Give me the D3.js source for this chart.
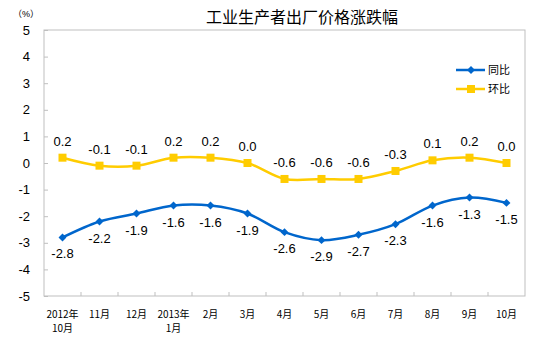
<!DOCTYPE html>
<html>
<head>
<meta charset="utf-8">
<script src="https://cdn.jsdelivr.net/npm/d3@7"></script>
<style>
  body { margin: 0; background: #fff; }
  text { font-family: "Liberation Sans", Arial, "Noto Sans CJK SC", sans-serif; fill: #000; }
  .cn { font-family: "Noto Sans CJK SC", sans-serif; }
</style>
</head>
<body>
<svg id="chart" width="554" height="362"></svg>
<script>
// chart data
var months = ['2012年|10月', '11月', '12月', '2013年|1月', '2月', '3月', '4月', '5月', '6月', '7月', '8月', '9月', '10月'];
var yoy = [-2.8, -2.2, -1.9, -1.6, -1.6, -1.9, -2.6, -2.9, -2.7, -2.3, -1.6, -1.3, -1.5];
var mom = [0.2, -0.1, -0.1, 0.2, 0.2, 0.0, -0.6, -0.6, -0.6, -0.3, 0.1, 0.2, 0.0];
var yTicks = [5, 4, 3, 2, 1, 0, -1, -2, -3, -4, -5];
var seriesNames = ['同比', '环比'];

var svg = d3.select('#chart');
var plotL = 44, plotR = 525, plotT = 30, plotB = 296;
var grey = '#bfbfbf';
var blue = '#0066cc', yellow = '#ffcc00';

var x = d3.scaleBand().domain(d3.range(months.length)).range([plotL, plotR]);
var y = d3.scaleLinear().domain([-5, 5]).range([plotB, plotT]);
var cx = (i) => x(i) + x.bandwidth() / 2;

// plain hyphen for negatives, like the original
var fmt = (d) => d.toFixed(1);

// title
svg.append('text')
  .attr('class', 'cn')
  .attr('x', 302).attr('y', 23)
  .attr('text-anchor', 'middle')
  .style('font-size', '16px')
  .text('工业生产者出厂价格涨跌幅');

svg.append('text')
  .attr('x', 26).attr('y', 17)
  .attr('text-anchor', 'middle')
  .style('font-size', '9px')
  .text('（%）');

// plot frame
svg.append('rect')
  .attr('x', plotL).attr('y', plotT)
  .attr('width', plotR - plotL).attr('height', plotB - plotT)
  .attr('fill', 'none')
  .attr('stroke', grey)
  .attr('stroke-width', 1);

// y axis
var yAxis = svg.append('g')
  .attr('transform', 'translate(' + plotL + ',0)')
  .call(d3.axisRight(y).tickValues(yTicks).tickSize(4).tickFormat((d) => String(d)));
yAxis.select('.domain').remove();
yAxis.selectAll('line').attr('stroke', grey);
yAxis.selectAll('text')
  .attr('x', -14).attr('text-anchor', 'end')
  .style('font-size', '13px');

// x axis ticks at category boundaries
svg.append('g')
  .selectAll('line')
  .data(d3.range(1, months.length))
  .enter()
  .append('line')
    .attr('x1', (d) => x(d)).attr('x2', (d) => x(d))
    .attr('y1', plotB).attr('y2', plotB - 4)
    .attr('stroke', grey);

var xl = svg.append('g')
  .selectAll('text')
  .data(months)
  .enter()
  .append('text')
    .attr('class', 'cn')
    .attr('text-anchor', 'middle')
    .attr('y', 318)
    .style('font-size', '10px');
xl.each(function(d, i) {
  var parts = d.split('|');
  d3.select(this).selectAll('tspan')
    .data(parts)
    .enter()
    .append('tspan')
      .attr('x', cx(i))
      .attr('dy', (p, j) => j ? 14 : 0)
      .text((p) => p);
});

// lines
var line = d3.line()
  .x((d, i) => cx(i))
  .y((d) => y(d))
  .curve(d3.curveCatmullRom.alpha(0));

svg.append('path').datum(mom)
  .attr('d', line).attr('fill', 'none')
  .attr('stroke', yellow).attr('stroke-width', 2.5);
svg.append('path').datum(yoy)
  .attr('d', line).attr('fill', 'none')
  .attr('stroke', blue).attr('stroke-width', 2.5);

// markers
svg.append('g').selectAll('rect')
  .data(mom).enter()
  .append('rect')
    .attr('x', (d, i) => cx(i) - 4).attr('y', (d) => y(d) - 4)
    .attr('width', 8).attr('height', 8)
    .attr('fill', yellow);

var diamond = d3.symbol().type(d3.symbolDiamond2).size(40);
svg.append('g').selectAll('path')
  .data(yoy).enter()
  .append('path')
    .attr('d', diamond)
    .attr('transform', (d, i) => 'translate(' + cx(i) + ',' + y(d) + ')')
    .attr('fill', blue);

// data labels
svg.append('g').selectAll('text')
  .data(mom).enter()
  .append('text')
    .attr('x', (d, i) => cx(i))
    .attr('y', (d) => y(d) - 12)
    .attr('text-anchor', 'middle')
    .style('font-size', '13px')
    .text((d) => fmt(d));
svg.append('g').selectAll('text')
  .data(yoy).enter()
  .append('text')
    .attr('x', (d, i) => cx(i))
    .attr('y', (d) => y(d) + 21)
    .attr('text-anchor', 'middle')
    .style('font-size', '13px')
    .text((d) => fmt(d));

// legend
var legend = svg.append('g')
  .selectAll('g')
  .data(seriesNames)
  .enter()
  .append('g')
    .attr('transform', (d, i) => 'translate(456,' + (70 + i * 19) + ')');
legend.append('line')
  .attr('x1', 0).attr('x2', 29)
  .attr('stroke', (d, i) => i ? yellow : blue)
  .attr('stroke-width', 2.5);
legend.each(function(d, i) {
  var g = d3.select(this);
  if (i) {
    g.append('rect').attr('x', 11).attr('y', -4).attr('width', 8).attr('height', 8).attr('fill', yellow);
  } else {
    g.append('path').attr('d', diamond).attr('transform', 'translate(15,0)').attr('fill', blue);
  }
});
legend.append('text')
  .attr('class', 'cn')
  .attr('x', 32).attr('y', 4)
  .style('font-size', '11px')
  .text((d) => d);
</script>
</body>
</html>
